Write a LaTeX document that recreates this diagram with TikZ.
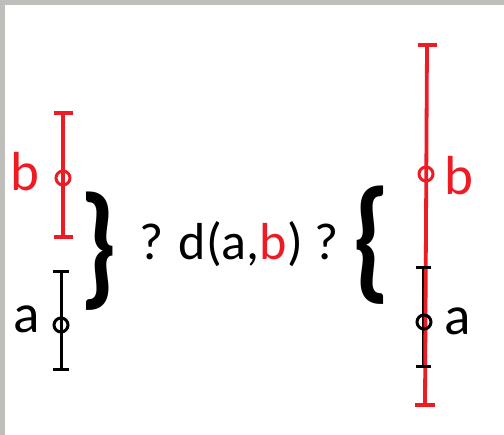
\documentclass[tikz,border=0pt]{standalone}
\usepackage{fontspec}
\setmainfont{Carlito}
\definecolor{rd}{RGB}{237,28,36}
\definecolor{edge}{RGB}{190,190,186}
\tikzset{
  redbar/.style={draw=rd,line width=3.8pt},
  blkbar/.style={draw=black,line width=3pt},
  dot/.style={circle,draw,line width=3pt,minimum size=14pt,inner sep=0pt},
  lbl/.style={font=\fontsize{55}{60}\selectfont,inner sep=0pt,anchor=base},
  mid/.style={font=\fontsize{52}{60}\selectfont,inner sep=0pt,anchor=base},
  brace/.style={font=\bfseries\fontsize{135}{135}\selectfont,inner sep=0pt,xscale=0.82}
}
\begin{document}
\begin{tikzpicture}[x=1pt,y=-1pt]
\useasboundingbox (0,0) rectangle (504,435);
\fill[white] (0,0) rectangle (504,435);
\fill[edge] (0,0) rectangle (504,5);
\fill[edge] (0,0) rectangle (5,435);
% left red bar (b)
\coordinate (lbt) at (63,113);
\coordinate (lbb) at (63,237);
\draw[redbar] (lbt) -- (lbb);
\draw[redbar] ([xshift=-9.5pt]lbt) -- ([xshift=9.5pt]lbt);
\draw[redbar] ([xshift=-9.5pt]lbb) -- ([xshift=9.5pt]lbb);
\node[dot,draw=rd] (lbc) at (63,178) {};
\node[lbl,text=rd] (lbl) at (25,191) {b};
% left black bar (a)
\coordinate (lat) at (61,272);
\coordinate (lab) at (61,370);
\draw[blkbar] (lat) -- (lab);
\draw[blkbar] ([xshift=-8pt]lat) -- ([xshift=8pt]lat);
\draw[blkbar] ([xshift=-8pt]lab) -- ([xshift=8pt]lab);
\node[dot] (lac) at (61,325) {};
\node[lbl] (lal) at (27,333) {a};
% braces
\node[brace] (br1) at (99,251) {\}};
\node[brace] (br2) at (372,245) {\{};
% middle text
\node[mid] (txt) at (239,260) {? d(a,\textcolor{rd}{b}) ?};
% right black bar (a)
\coordinate (rat) at (423,268);
\coordinate (rab) at (423,367);
\draw[blkbar] (rat) -- (rab);
% right red bar (b)
\coordinate (rbt) at (427,45);
\coordinate (rbb) at (425,405);
\draw[redbar] (rbt) -- (rbb);
\draw[redbar] ([xshift=-9.5pt]rbt) -- ([xshift=9.5pt]rbt);
\draw[redbar] ([xshift=-10pt]rbb) -- ([xshift=10pt]rbb);
\node[dot,draw=rd] (rbc) at (426,174) {};
\node[lbl,text=rd] (rbl) at (459,195) {b};
\draw[blkbar] ([xshift=-7.5pt]rat) -- ([xshift=7.5pt]rat);
\draw[blkbar] ([xshift=-7.5pt]rab) -- ([xshift=7.5pt]rab);
\node[dot] (rac) at (424,322) {};
\node[lbl] (ral) at (458,335) {a};
\end{tikzpicture}
\end{document}
